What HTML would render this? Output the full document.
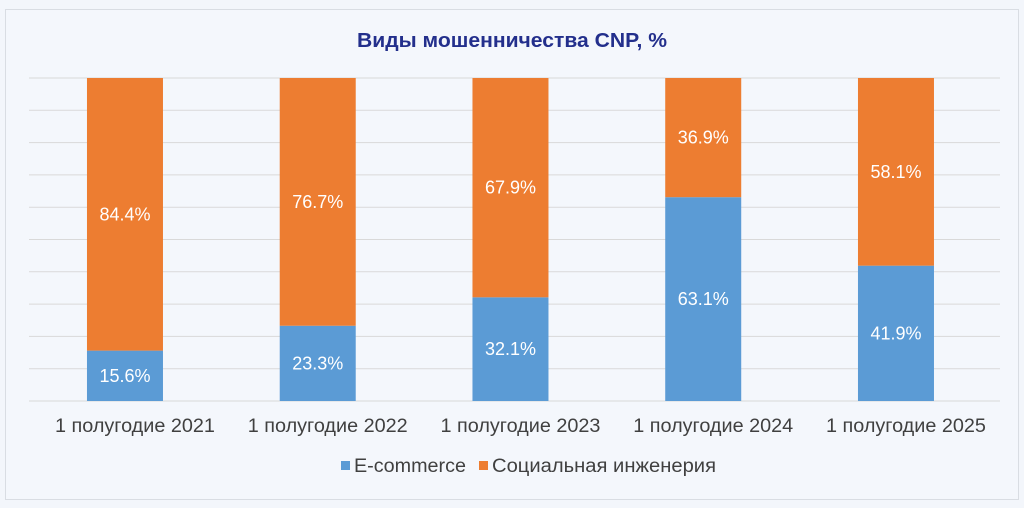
<!DOCTYPE html>
<html><head><meta charset="utf-8"><style>
html,body{margin:0;padding:0;background:#f3f6fb;}
svg{display:block;font-family:"Liberation Sans","DejaVu Sans",sans-serif;}
</style></head><body>
<svg id="chart" width="1024" height="508">
<rect x="5.5" y="9.5" width="1013" height="490" fill="#f4f7fc" stroke="#d9dde3"/>
<text x="512" y="47" text-anchor="middle" font-size="20" font-weight="bold" fill="#232f8c" textLength="310" lengthAdjust="spacingAndGlyphs">Виды мошенничества CNP, %</text>
<g id="grid"></g><g id="bars"></g><g id="labels"></g>
<g>
<rect x="341" y="461" width="9" height="9" fill="#5b9bd5"/>
<text x="354" y="472" font-size="19" fill="#404040" textLength="112" lengthAdjust="spacingAndGlyphs">E-commerce</text>
<rect x="479" y="461" width="9" height="9" fill="#ed7d31"/>
<text x="492" y="472" font-size="19" fill="#404040" textLength="224" lengthAdjust="spacingAndGlyphs">Социальная инженерия</text>
</g>
</svg>
<script>
const categories=["1 полугодие 2021","1 полугодие 2022","1 полугодие 2023","1 полугодие 2024","1 полугодие 2025"];
const ecommerce=[15.6,23.3,32.1,63.1,41.9];
const social=[84.4,76.7,67.9,36.9,58.1];
const ns="http://www.w3.org/2000/svg";
const gridLeft=29,gridRight=1000,plotLeft=28.6,plotTop=78,plotBottom=401,bw=76;
const step=192.75;
const yScale=v=>plotBottom-(plotBottom-plotTop)*v/100;
const cx=i=>plotLeft+step*(i+0.5);
function mk(tag,attrs,parent){const e=document.createElementNS(ns,tag);for(const k in attrs)e.setAttribute(k,attrs[k]);parent.appendChild(e);return e;}
const grid=document.getElementById('grid'),bars=document.getElementById('bars'),labels=document.getElementById('labels');
for(let t=0;t<=100;t+=10){
 const l=mk('line',{x1:gridLeft,x2:gridRight,y1:yScale(t),y2:yScale(t),stroke:'#d9d9d9','stroke-width':1},grid);
 
 
}
categories.forEach((c,i)=>{
 const x=cx(i)-bw/2;
 const e=ecommerce[i],s=social[i];
 const b1=mk('rect',{x:x,y:yScale(e),width:bw,height:plotBottom-yScale(e),fill:'#5b9bd5'},bars);
 
 
 const b2=mk('rect',{x:x,y:yScale(e+s),width:bw,height:yScale(e)-yScale(e+s),fill:'#ed7d31'},bars);
 
 
 const t1=mk('text',{x:cx(i),y:(yScale(e)+plotBottom)/2+6,'text-anchor':'middle','font-size':18,fill:'#fff'},labels);
 t1.textContent=e.toFixed(1)+'%';
 
 
 const t2=mk('text',{x:cx(i),y:(yScale(e)+yScale(e+s))/2+6,'text-anchor':'middle','font-size':18,fill:'#fff'},labels);
 t2.textContent=s.toFixed(1)+'%';
 
 
 const tc=mk('text',{x:cx(i)+10,y:432,'text-anchor':'middle','font-size':19,fill:'#404040',textLength:160,lengthAdjust:'spacingAndGlyphs'},labels);
 tc.textContent=c;
 
 
});
</script>
</body></html>
